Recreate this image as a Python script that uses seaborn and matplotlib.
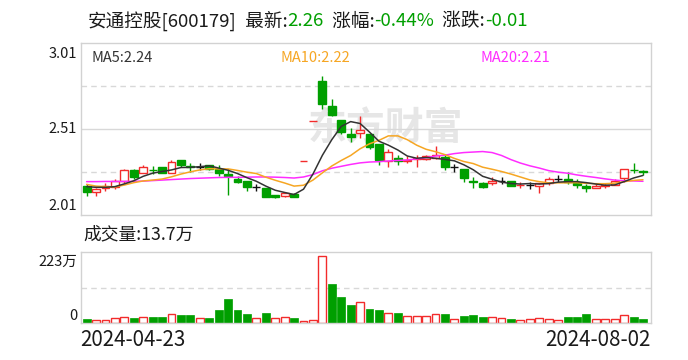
import numpy as np
import pandas as pd
import matplotlib
matplotlib.use("Agg")
import matplotlib.pyplot as plt
import seaborn as sns

# ---------------- data ----------------
stock_name = "安通控股"
stock_code = "600179"
latest = "2.26"
pct_change = "-0.44%"
change = "-0.01"
volume_latest = "13.7万"
date_labels = ["2024-04-23", "2024-08-02"]
price_ticks = ["2.01", "2.51", "3.01"]
price_min, price_max = 2.01, 3.01
vol_max = 223  # 万
vol_tick_labels = ["0", "223万"]
ma_labels = ["MA5:2.24", "MA10:2.22", "MA20:2.21"]

opens = [2.178, 2.142, 2.167, 2.171, 2.210, 2.270, 2.252, 2.272, 2.287, 2.252,
         2.330, 2.293, 2.291, 2.299, 2.275, 2.246, 2.219, 2.208, 2.171, 2.165,
         2.124, 2.122, 2.132, 2.324, 2.556, 2.789, 2.644, 2.562, 2.481, 2.485,
         2.481, 2.423, 2.324, 2.339, 2.324, 2.337, 2.335, 2.343, 2.349, 2.290,
         2.277, 2.205, 2.194, 2.194, 2.205, 2.208, 2.183, 2.186, 2.181, 2.194,
         2.220, 2.219, 2.194, 2.181, 2.165, 2.179, 2.185, 2.223, 2.273, 2.263]
closes = [2.142, 2.159, 2.178, 2.206, 2.270, 2.233, 2.287, 2.270, 2.256, 2.316,
          2.301, 2.291, 2.291, 2.279, 2.252, 2.235, 2.200, 2.171, 2.171, 2.113,
          2.113, 2.136, 2.113, 2.324, 2.556, 2.657, 2.591, 2.495, 2.465, 2.504,
          2.403, 2.330, 2.378, 2.324, 2.330, 2.339, 2.351, 2.357, 2.290, 2.290,
          2.223, 2.203, 2.171, 2.205, 2.205, 2.181, 2.186, 2.186, 2.194, 2.220,
          2.220, 2.200, 2.184, 2.165, 2.181, 2.185, 2.210, 2.277, 2.270, 2.260]
highs = [2.190, 2.169, 2.194, 2.219, 2.275, 2.278, 2.299, 2.295, 2.291, 2.332,
         2.330, 2.310, 2.310, 2.299, 2.299, 2.275, 2.237, 2.208, 2.188, 2.169,
         2.126, 2.146, 2.140, 2.324, 2.556, 2.820, 2.682, 2.562, 2.514, 2.586,
         2.481, 2.423, 2.392, 2.359, 2.353, 2.359, 2.359, 2.411, 2.357, 2.306,
         2.277, 2.229, 2.204, 2.229, 2.229, 2.208, 2.204, 2.200, 2.198, 2.233,
         2.243, 2.258, 2.219, 2.190, 2.194, 2.198, 2.219, 2.277, 2.310, 2.272]
lows = [2.120, 2.120, 2.151, 2.163, 2.198, 2.221, 2.252, 2.248, 2.252, 2.252,
        2.291, 2.262, 2.272, 2.272, 2.237, 2.128, 2.194, 2.151, 2.151, 2.113,
        2.110, 2.113, 2.113, 2.324, 2.556, 2.628, 2.586, 2.481, 2.436, 2.456,
        2.392, 2.301, 2.291, 2.301, 2.314, 2.291, 2.330, 2.335, 2.272, 2.262,
        2.200, 2.165, 2.165, 2.182, 2.188, 2.181, 2.167, 2.163, 2.140, 2.184,
        2.200, 2.190, 2.165, 2.142, 2.165, 2.165, 2.185, 2.204, 2.252, 2.240]
volumes = [11.5, 10.5, 10.5, 16.8, 19.9, 14.7, 19.9, 17.8, 17.8, 29.3,
           24.1, 24.1, 16.8, 14.7, 39.8, 74.3, 39.8, 27.2, 16.8, 30.4,
           16.8, 18.8, 16.8, 7.3, 10.5, 209.0, 121.0, 80.6, 55.5, 67.0,
           42.9, 39.8, 32.5, 30.4, 23.0, 23.0, 23.0, 29.3, 27.2, 13.6,
           20.9, 24.1, 17.8, 18.8, 16.8, 11.5, 10.5, 13.6, 15.7, 13.6,
           8.4, 17.8, 17.8, 27.2, 13.6, 11.5, 11.5, 26.2, 17.8, 13.7]
ma5 = [2.175, 2.171, 2.171, 2.175, 2.191, 2.209, 2.235, 2.253, 2.263, 2.272,
       2.286, 2.287, 2.291, 2.296, 2.283, 2.270, 2.251, 2.227, 2.206, 2.178,
       2.154, 2.141, 2.129, 2.160, 2.248, 2.357, 2.448, 2.525, 2.553, 2.542,
       2.492, 2.439, 2.416, 2.388, 2.353, 2.340, 2.344, 2.340, 2.333, 2.325,
       2.302, 2.273, 2.235, 2.218, 2.201, 2.193, 2.190, 2.193, 2.190, 2.193,
       2.201, 2.204, 2.204, 2.198, 2.190, 2.183, 2.185, 2.204, 2.225, 2.240]
ma10 = [2.188, 2.178, 2.175, 2.173, 2.184, 2.198, 2.208, 2.213, 2.219, 2.232,
        2.248, 2.261, 2.272, 2.279, 2.278, 2.278, 2.269, 2.259, 2.251, 2.230,
        2.212, 2.196, 2.178, 2.183, 2.213, 2.255, 2.295, 2.327, 2.356, 2.395,
        2.424, 2.444, 2.470, 2.470, 2.448, 2.416, 2.392, 2.378, 2.361, 2.339,
        2.321, 2.309, 2.288, 2.276, 2.263, 2.248, 2.231, 2.214, 2.204, 2.197,
        2.197, 2.197, 2.198, 2.194, 2.192, 2.192, 2.195, 2.204, 2.211, 2.215]
ma20 = [2.204, 2.204, 2.205, 2.205, 2.205, 2.206, 2.207, 2.210, 2.213, 2.216,
        2.219, 2.222, 2.224, 2.226, 2.228, 2.229, 2.229, 2.230, 2.231, 2.231,
        2.230, 2.228, 2.225, 2.231, 2.245, 2.267, 2.282, 2.293, 2.304, 2.313,
        2.318, 2.320, 2.324, 2.327, 2.330, 2.336, 2.343, 2.353, 2.358, 2.367,
        2.373, 2.376, 2.379, 2.373, 2.356, 2.332, 2.312, 2.296, 2.283, 2.268,
        2.259, 2.253, 2.243, 2.235, 2.228, 2.220, 2.213, 2.209, 2.208, 2.206]

# ---------------- style ----------------
sns.set_theme(style="white")
plt.rcParams["font.family"] = ["Noto Sans CJK SC", "DejaVu Sans"]
plt.rcParams["axes.unicode_minus"] = False

RED = "#f22b2b"
GREEN = "#009f00"
BLACK = "#111111"
FRAME = "#d2d2d2"
GRID = "#d8d8d8"
C_MA5 = "#333333"
C_MA10 = "#f6a623"
C_MA20 = "#ff2dff"

W, H = 688, 360
fig = plt.figure(figsize=(W / 100, H / 100), dpi=100)
fig.patch.set_facecolor("white")


def fx(px):
    return px / W


def fy(py):
    return 1 - py / H


L, R = 80.5, 651.0
ax = fig.add_axes([fx(L), fy(215), fx(R - L), fy(43) - fy(215)])
axv = fig.add_axes([fx(L), fy(323), fx(R - L), fy(252) - fy(323)])

n = len(closes)
x = np.arange(n)
BW = 0.84

# ---------------- candles ----------------
vol_cols = []
for i in range(n):
    o, c, h, l = opens[i], closes[i], highs[i], lows[i]
    prev = closes[i - 1] if i > 0 else o
    if c > o:
        col, face = RED, "white"
    elif c < o:
        col, face = GREEN, GREEN
    else:
        col = RED if c > prev else (GREEN if c < prev else BLACK)
        face = col
    vol_cols.append(RED if (c >= prev if i > 0 else c >= o) else GREEN)
    top, bot = max(o, c), min(o, c)
    if h > top:
        ax.vlines(i, top, h, color=col, lw=1.0, zorder=2)
    if l < bot:
        ax.vlines(i, l, bot, color=col, lw=1.0, zorder=2)
    ax.bar(i, top - bot, bottom=bot, width=BW, facecolor=face, edgecolor=col,
           linewidth=1.0, zorder=2)

# moving averages
ma_df = pd.DataFrame({"idx": x, "MA5": ma5, "MA10": ma10, "MA20": ma20})
sns.lineplot(data=ma_df, x="idx", y="MA20", ax=ax, color=C_MA20, lw=1.1, zorder=3)
sns.lineplot(data=ma_df, x="idx", y="MA10", ax=ax, color=C_MA10, lw=1.1, zorder=3)
sns.lineplot(data=ma_df, x="idx", y="MA5", ax=ax, color=C_MA5, lw=1.1, zorder=4)

ax.set_xlim(-0.65, n - 1 + 0.85)
ax.set_ylim(price_min, price_max)
span = price_max - price_min
ax.axhline(price_min + span / 2, color=GRID, lw=1.0, zorder=1)
for q in (0.25, 0.75):
    ax.axhline(price_min + span * q, color=GRID, lw=1.0, ls=(0, (4, 3)), zorder=1)
ax.set_xticks([])
ax.set_yticks([])
ax.set_xlabel("")
ax.set_ylabel("")
for s in ax.spines.values():
    s.set_color(FRAME)
    s.set_linewidth(1.0)

# watermark
ax.text(fx(385), fy(129), "东方财富", transform=fig.transFigure, fontsize=28,
        fontweight="bold", color="#e6e6e6", ha="center", va="center", zorder=0.5)

# ---------------- volume ----------------
vdf = pd.DataFrame({"idx": x, "vol": volumes})
sns.barplot(data=vdf, x="idx", y="vol", ax=axv, width=BW, errorbar=None,
            color=GREEN)
for p, col in zip(axv.patches, vol_cols):
    if col == RED:
        p.set_facecolor("white")
        p.set_edgecolor(RED)
        p.set_linewidth(1.0)
    else:
        p.set_facecolor(GREEN)
        p.set_edgecolor(GREEN)
        p.set_linewidth(0.5)
axv.set_xlim(-0.65, n - 1 + 0.85)
axv.set_ylim(0, vol_max)
axv.axhline(vol_max / 2, color=GRID, lw=1.0, ls=(0, (4, 3)), zorder=0)
axv.set_xticks([])
axv.set_yticks([])
axv.set_xlabel("")
axv.set_ylabel("")
for s in axv.spines.values():
    s.set_color(FRAME)
    s.set_linewidth(1.0)

# ---------------- texts ----------------
TXT = "#1a1a1a"
renderer = fig.canvas.get_renderer()


def colored_line(xp, yp, parts, fs):
    xcur = fx(xp)
    for text, color in parts:
        t = fig.text(xcur, fy(yp), text, color=color, fontsize=fs, ha="left", va="center")
        bb = t.get_window_extent(renderer=renderer)
        xcur += bb.width / W


colored_line(88, 21.5, [
    (f"{stock_name}[{stock_code}]", TXT),
    ("  最新:", TXT), (latest, GREEN),
    ("  涨幅:", TXT), (pct_change, GREEN),
    ("  涨跌:", TXT), (change, GREEN),
], 13.4)

fig.text(fx(91), fy(58), ma_labels[0], color=C_MA5, fontsize=10.5, va="center")
fig.text(fx(281), fy(58), ma_labels[1], color=C_MA10, fontsize=10.5, va="center")
fig.text(fx(481), fy(58), ma_labels[2], color=C_MA20, fontsize=10.5, va="center")

fig.text(fx(77), fy(54.5), price_ticks[2], fontsize=10.5, ha="right", va="center", color=TXT)
fig.text(fx(77), fy(129), price_ticks[1], fontsize=10.5, ha="right", va="center", color=TXT)
fig.text(fx(77), fy(206), price_ticks[0], fontsize=10.5, ha="right", va="center", color=TXT)

fig.text(fx(83), fy(234), f"成交量:{volume_latest}", fontsize=12.8, va="center", color=TXT)
fig.text(fx(77), fy(262), vol_tick_labels[1], fontsize=10.5, ha="right", va="center", color=TXT)
fig.text(fx(77), fy(316), vol_tick_labels[0], fontsize=10.5, ha="right", va="center", color=TXT)

fig.text(fx(80), fy(340), date_labels[0], fontsize=14.8, ha="left", va="center", color=TXT)
fig.text(fx(651), fy(340), date_labels[1], fontsize=14.8, ha="right", va="center", color=TXT)

fig.savefig("out.png", dpi=100, facecolor="white")
